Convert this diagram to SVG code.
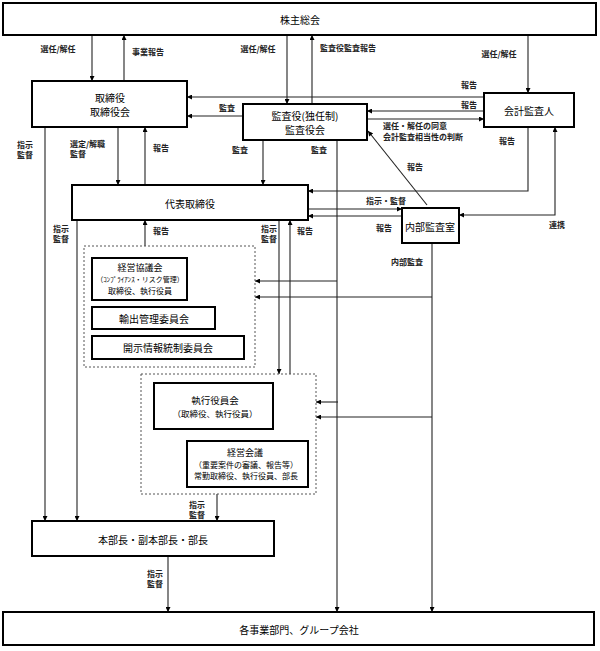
<svg xmlns="http://www.w3.org/2000/svg" width="600" height="651" viewBox="0 0 600 651">
<style>
.box{fill:#fff;stroke:#000;stroke-width:2}
.dash{fill:none;stroke:#555;stroke-width:1;stroke-dasharray:2,2}
.t{font-family:"Noto Sans CJK JP","Noto Sans",sans-serif;font-size:10px;fill:#000;text-anchor:middle;dominant-baseline:central}
.s{font-family:"Noto Sans CJK JP","Noto Sans",sans-serif;font-size:8px;font-weight:bold;fill:#222;text-anchor:middle;dominant-baseline:central}
.l{font-family:"Noto Sans CJK JP","Noto Sans",sans-serif;font-size:8px;font-weight:bold;fill:#222;dominant-baseline:central}
.c{fill:none;stroke:#222;stroke-width:1.1}
</style>
<defs>
<marker id="ah" viewBox="0 0 10 10" refX="10" refY="5" markerWidth="6" markerHeight="5" markerUnits="userSpaceOnUse" orient="auto-start-reverse">
<path d="M0,0 L10,5 L0,10 z" fill="#000"/>
</marker>
</defs>
<rect width="600" height="651" fill="#fff"/>

<g id="connectors">
<path class="c" d="M92,35 V81" marker-end="url(#ah)"/>
<path class="c" d="M124,81 V35" marker-end="url(#ah)"/>
<path class="c" d="M287,35 V104" marker-end="url(#ah)"/>
<path class="c" d="M312,104 V35" marker-end="url(#ah)"/>
<path class="c" d="M528,35 V93" marker-end="url(#ah)"/>
<path class="c" d="M484,97 H187" marker-end="url(#ah)"/>
<path class="c" d="M484,111 H367" marker-end="url(#ah)"/>
<path class="c" d="M367,119 H484" marker-end="url(#ah)"/>
<path class="c" d="M243,116 H187" marker-end="url(#ah)"/>
<path class="c" d="M118,127 V185" marker-end="url(#ah)"/>
<path class="c" d="M145,185 V127" marker-end="url(#ah)"/>
<path class="c" d="M45,127 V521" marker-end="url(#ah)"/>
<path class="c" d="M263,140 V185" marker-end="url(#ah)"/>
<path class="c" d="M337,140 V612" marker-end="url(#ah)"/>
<path class="c" d="M528,127 V191 H308" marker-end="url(#ah)"/>
<path class="c" d="M308,209 H402" marker-end="url(#ah)"/>
<path class="c" d="M402,216 H308" marker-end="url(#ah)"/>
<path class="c" d="M459,215 H555 V127" marker-start="url(#ah)" marker-end="url(#ah)"/>
<path class="c" d="M427,205 L368,131" marker-end="url(#ah)"/>
<path class="c" d="M77,220 V521" marker-end="url(#ah)"/>
<path class="c" d="M145,246 V220" marker-end="url(#ah)"/>
<path class="c" d="M279,220 V374" marker-end="url(#ah)"/>
<path class="c" d="M290,374 V220" marker-end="url(#ah)"/>
<path class="c" d="M337,281 H255" marker-end="url(#ah)"/>
<path class="c" d="M432,243 V612" marker-end="url(#ah)"/>
<path class="c" d="M432,297 H255" marker-end="url(#ah)"/>
<path class="c" d="M338,402 H316" marker-end="url(#ah)"/>
<path class="c" d="M432,417 H316" marker-end="url(#ah)"/>
<path class="c" d="M217,494 V521" marker-end="url(#ah)"/>
<path class="c" d="M168,556 V612" marker-end="url(#ah)"/>

<text class="s" x="58" y="48">選任/解任</text>
<text class="s" x="148" y="51">事業報告</text>
<text class="s" x="258" y="48">選任/解任</text>
<text class="s" x="348" y="47">監査役監査報告</text>
<text class="s" x="499" y="53">選任/解任</text>
<text class="s" x="469" y="84">報告</text>
<text class="s" x="469" y="104">報告</text>
<text class="l" x="383" y="125">選任・解任の同意</text>
<text class="l" x="383" y="136">会計監査相当性の判断</text>
<text class="s" x="227" y="107">監査</text>
<text class="l" x="70" y="143">選定/解職</text>
<text class="l" x="70" y="153">監督</text>
<text class="s" x="161" y="147">報告</text>
<text class="s" x="25" y="144">指示</text>
<text class="s" x="25" y="154">監督</text>
<text class="s" x="240" y="149">監査</text>
<text class="s" x="319" y="149">監査</text>
<text class="s" x="507" y="140">報告</text>
<text class="s" x="386" y="200">指示・監督</text>
<text class="s" x="384" y="227">報告</text>
<text class="s" x="557" y="224">連携</text>
<text class="s" x="415" y="166">報告</text>
<text class="s" x="61" y="228">指示</text>
<text class="s" x="61" y="238">監督</text>
<text class="s" x="161" y="230">報告</text>
<text class="s" x="269" y="228">指示</text>
<text class="s" x="269" y="238">監督</text>
<text class="s" x="305" y="230">報告</text>
<text class="s" x="407" y="261">内部監査</text>
<text class="s" x="197" y="504">指示</text>
<text class="s" x="197" y="514">監督</text>
<text class="s" x="155" y="573">指示</text>
<text class="s" x="155" y="583">監督</text>
</g>

<g id="kabunushi">
<rect class="box" x="3" y="3" width="593" height="32"/>
<text class="t" x="300" y="19">株主総会</text>
</g>
<g id="torishimariyakukai">
<rect class="box" x="32" y="81" width="155" height="46"/>
<text class="t" x="110" y="97">取締役</text>
<text class="t" x="110" y="111">取締役会</text>
</g>
<g id="kansayaku">
<rect class="box" x="243" y="104" width="124" height="36"/>
<text class="t" x="305" y="115">監査役(独任制)</text>
<text class="t" x="305" y="129">監査役会</text>
</g>
<g id="kaikei">
<rect class="box" x="484" y="93" width="90" height="34"/>
<text class="t" x="529" y="110">会計監査人</text>
</g>
<g id="daihyo">
<rect class="box" x="72" y="185" width="236" height="35"/>
<text class="t" x="190" y="203">代表取締役</text>
</g>
<g id="naibu">
<rect class="box" x="402" y="208" width="57" height="35"/>
<text class="t" x="430" y="226">内部監査室</text>
</g>
<g id="group1">
<rect class="dash" x="84" y="246" width="171" height="121"/>
</g>
<g id="keiei-kyogikai">
<rect class="box" x="92" y="258" width="95" height="42"/>
<text class="t" x="140" y="267" style="font-size:9px">経営協議会</text>
<text class="t" x="140" y="279" style="font-size:7px">（ｺﾝﾌﾟﾗｲｱﾝｽ・リスク管理）</text>
<text class="t" x="140" y="290" style="font-size:8px">取締役、執行役員</text>
</g>
<g id="yushutsu">
<rect class="box" x="92" y="307" width="123" height="22"/>
<text class="t" x="154" y="318">輸出管理委員会</text>
</g>
<g id="kaiji">
<rect class="box" x="92" y="336" width="152" height="23"/>
<text class="t" x="168" y="347">開示情報統制委員会</text>
</g>
<g id="group2">
<rect class="dash" x="141" y="374" width="175" height="120"/>
</g>
<g id="shikko">
<rect class="box" x="154" y="383" width="119" height="46"/>
<text class="t" x="215" y="400" style="font-size:9.5px">執行役員会</text>
<text class="t" x="215" y="413" style="font-size:8.5px">（取締役、執行役員）</text>
</g>
<g id="keiei-kaigi">
<rect class="box" x="187" y="441" width="121" height="46"/>
<text class="t" x="245" y="452" style="font-size:9px">経営会議</text>
<text class="t" x="246" y="464" style="font-size:8px">（重要案件の審議、報告等）</text>
<text class="t" x="246" y="475" style="font-size:8px">常勤取締役、執行役員、部長</text>
</g>
<g id="honbucho">
<rect class="box" x="32" y="521" width="242" height="35"/>
<text class="t" x="153" y="539">本部長・副本部長・部長</text>
</g>
<g id="jigyobumon">
<rect class="box" x="3" y="612" width="591" height="33"/>
<text class="t" x="299" y="629">各事業部門、グループ会社</text>
</g>
</svg>
